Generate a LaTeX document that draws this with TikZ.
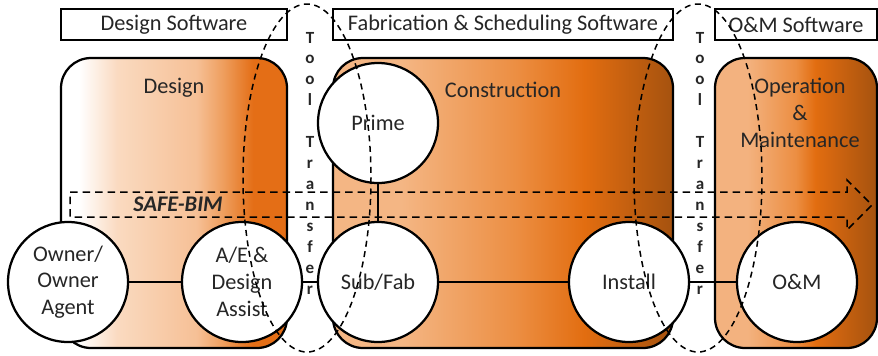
\documentclass[tikz,border=0pt]{standalone}
\usepackage{fontspec}
\setmainfont{Carlito}
\usepackage{xcolor}
\usetikzlibrary{positioning}

% stage fill colours
\definecolor{dpeach}{HTML}{FADAC0}
\definecolor{dtan}{HTML}{F6C096}
\definecolor{dmid}{HTML}{EE9D5C}
\definecolor{dorange}{HTML}{E46E16}
\definecolor{corange}{HTML}{E26D10}
\definecolor{clight}{HTML}{F4B684}
\definecolor{cmid}{HTML}{EC8E42}
\definecolor{cbrown}{HTML}{A5520F}
\definecolor{olight}{HTML}{F3B27F}

\pgfdeclarehorizontalshading{designfade}{100bp}{color(0bp)=(white); color(29bp)=(white);
  color(37.5bp)=(dpeach); color(55bp)=(dtan); color(61bp)=(dmid); color(67.5bp)=(dorange);
  color(75bp)=(dorange); color(100bp)=(dorange)}
\pgfdeclarehorizontalshading{buildfade}{100bp}{color(0bp)=(clight); color(25bp)=(clight);
  color(35bp)=(clight); color(52bp)=(cmid); color(62bp)=(corange); color(75bp)=(cbrown);
  color(100bp)=(cbrown)}
\pgfdeclarehorizontalshading{omfade}{100bp}{color(0bp)=(olight); color(25bp)=(olight);
  color(35bp)=(olight); color(50bp)=(cmid); color(56bp)=(corange); color(75bp)=(cbrown);
  color(100bp)=(cbrown)}

\tikzset{
  lbl/.style={font=\fontsize{12.7}{15.2}\selectfont, text=black!85, align=center},
  stage/.style={draw, line width=0.45mm, rounded corners=6mm},
  swbox/.style={draw, line width=0.45mm, fill=white, inner sep=0pt, lbl},
  actor/.style={circle, draw, line width=0.45mm, fill=white, minimum size=24mm, inner sep=0pt, lbl},
  xfer/.style={font=\fontsize{9.7}{11.9}\selectfont\bfseries, text=black!85, align=center, inner sep=0pt},
  handoff/.style={dashed, dash pattern=on 1.2mm off 0.9mm, line width=0.3mm},
  bimarrow/.style={dashed, dash pattern=on 1.5mm off 1mm, line width=0.3mm},
  link/.style={line width=0.45mm}
}

\begin{document}
\begin{tikzpicture}[x=0.2mm, y=-0.2mm]
\useasboundingbox (0,0) rectangle (878,355);

% software bands
\node (dsw) [swbox, minimum width=45.2mm, minimum height=6.2mm] at (174,24.5) {Design Software};
\node (fsw) [swbox, minimum width=68mm, minimum height=6.2mm] at (503,24.5) {Fabrication \& Scheduling Software};
\node (osw) [swbox, minimum width=32.4mm, minimum height=6.2mm] at (796,24.5) {O\&M Software};

% project stages
\draw [stage, shading=designfade] (61,58) rectangle (287,348);
\draw [stage, shading=buildfade] (333,58) rectangle (673,348);
\draw [stage, shading=omfade] (715,58) rectangle (877,348);
\node (design) [lbl] at (174,88) {Design};
\node (constr) [lbl] at (503,90) {Construction};
\node (operat) [lbl] at (800,113) {Operation\\\&\\Maintenance};

% SAFE-BIM flow
\draw [bimarrow] (70,192) -- (847,192) -- (847,180) -- (872,205) -- (847,230) -- (847,217) -- (70,217) -- cycle;
\node (bim) [lbl, font=\fontsize{12.7}{15.2}\selectfont\bfseries\itshape] at (178,204) {SAFE-BIM};

% parties
\node (owner) [actor] at (68,282) {Owner/\\Owner\\Agent};
\node (ae) [actor] at (242,282) {A/E \&\\Design\\Assist};
\node (sub) [actor] at (378,282) {Sub/Fab};
\node (prime) [actor] at (378,123) {Prime};
\node (install) [actor] at (629,282) {Install};
\node (om) [actor] at (797,282) {O\&M};
\draw [link] (owner) -- (ae);
\draw [link] (ae) -- (sub);
\draw [link] (sub) -- (install);
\draw [link] (install) -- (om);
\draw [link] (prime) -- (sub);

% tool transfer points
\node (xferA) [xfer] at (310,163) {T\\o\\o\\l\\[11.9pt]T\\r\\a\\n\\s\\f\\e\\r};
\node (xferB) [xfer] at (700,163) {T\\o\\o\\l\\[11.9pt]T\\r\\a\\n\\s\\f\\e\\r};
\draw [handoff] (307,178) ellipse [x radius=64, y radius=174];
\draw [handoff] (698,178) ellipse [x radius=64, y radius=174];
\end{tikzpicture}
\end{document}
